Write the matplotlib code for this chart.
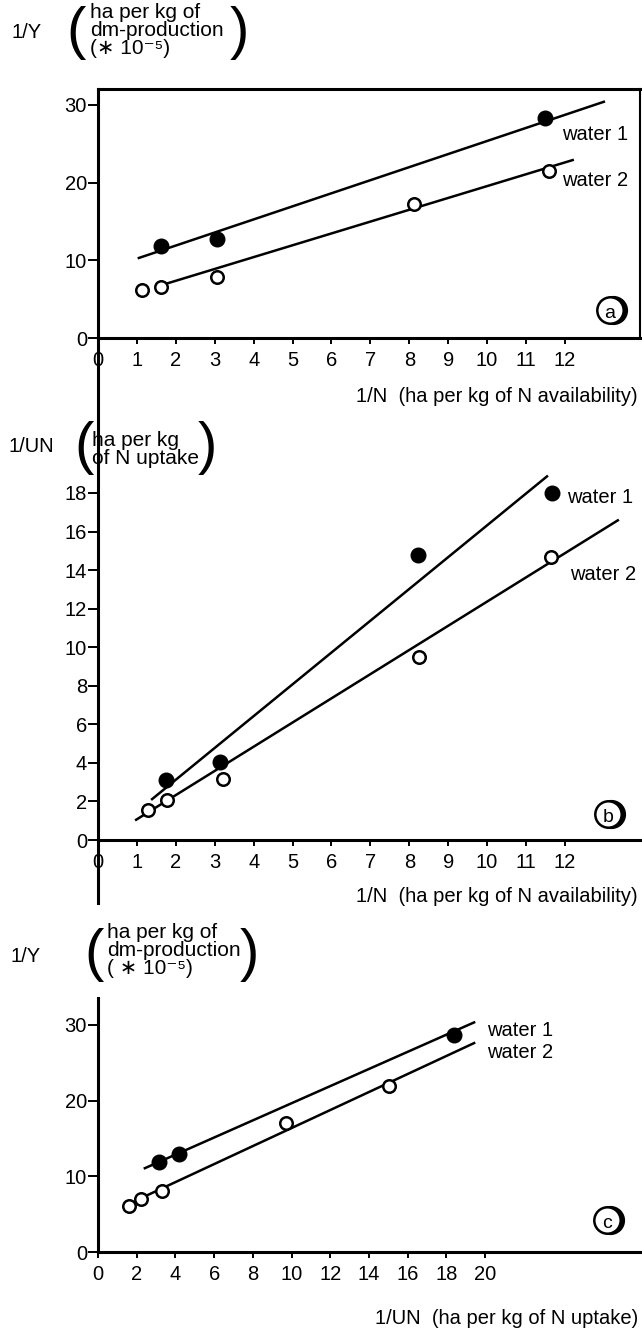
import matplotlib
matplotlib.use("Agg")
from matplotlib import pyplot as plt
from matplotlib import transforms
from matplotlib.lines import Line2D

plt.rcParams['font.family'] = ['Liberation Sans', 'DejaVu Sans']

# (a) 1/Y against 1/N
a_x1 = [1.63, 3.06, 11.48]
a_y1 = [11.8, 12.8, 28.3]
a_x2 = [1.14, 1.63, 3.06, 8.11, 11.59]
a_y2 = [6.2, 6.6, 7.9, 17.2, 21.5]
a_fit1_x = [1.05, 13.0]
a_fit1_y = [10.3, 30.4]
a_fit2_x = [1.63, 12.2]
a_fit2_y = [6.8, 22.9]

# (b) 1/UN against 1/N
b_x1 = [1.74, 3.13, 8.22, 11.68]
b_y1 = [3.1, 4.05, 14.8, 18.0]
b_x2 = [1.29, 1.77, 3.22, 8.24, 11.64]
b_y2 = [1.56, 2.06, 3.15, 9.5, 14.7]
b_fit1_x = [1.39, 11.54]
b_fit1_y = [2.12, 18.86]
b_fit2_x = [0.98, 13.36]
b_fit2_y = [1.05, 16.58]

# (c) 1/Y against 1/UN
c_x1 = [3.16, 4.17, 18.38]
c_y1 = [11.9, 13.0, 28.7]
c_x2 = [1.58, 2.21, 3.33, 9.73, 15.05]
c_y2 = [6.07, 7.03, 8.0, 17.0, 21.95]
c_fit1_x = [2.42, 19.43]
c_fit1_y = [11.07, 30.33]
c_fit2_x = [2.21, 19.43]
c_fit2_y = [7.1, 27.6]

W, H = 642, 1330
fig = plt.figure(figsize=(W / 100, H / 100), dpi=100)


def fx(px):
    return px / W


def fy(py):
    return 1 - py / H


def make_axes(top, bottom, zero, per_unit, xmax, xticks, yticks):
    # axes box in pixels, y range from the pixel position of zero
    ax = fig.add_axes([fx(98), fy(bottom), fx(640) - fx(98), (bottom - top) / H])
    ax.set_xlim(0, xmax)
    ax.set_ylim((zero - bottom) / per_unit, (zero - top) / per_unit)
    ax.set_xticks(xticks)
    ax.set_yticks(yticks)
    ax.spines['bottom'].set_position(('data', 0))
    for s in ax.spines.values():
        s.set_linewidth(2.2)
    ax.spines['top'].set_visible(False)
    ax.spines['right'].set_visible(False)
    ax.tick_params(axis='y', direction='out', length=7.5, width=1.4, pad=0.5, labelsize=14.5)
    ax.tick_params(axis='x', direction='out', length=4.5, width=1.4, pad=4.5, labelsize=14.5)
    ax.patch.set_alpha(0)
    return ax


def draw(ax, x1, y1, x2, y2, f1x, f1y, f2x, f2y):
    ax.plot(f1x, f1y, color='black', lw=1.8, zorder=2)
    ax.plot(f2x, f2y, color='black', lw=1.8, zorder=2)
    ax.plot(x1, y1, 'o', ms=10.5, mfc='black', mec='black', zorder=3, clip_on=False)
    ax.plot(x2, y2, 'o', ms=9, mfc='white', mec='black', mew=1.8, zorder=3, clip_on=False)


def txt(x, y, s, size=14.5, ha='left', **kw):
    fig.text(fx(x), fy(y), s, fontsize=size, ha=ha, va='center', **kw)


def tag(x, y, s):
    # circled panel letter with a dark rim on its right side
    shifted = transforms.offset_copy(fig.transFigure, fig=fig, x=3, y=0, units='dots')
    fig.add_artist(Line2D([fx(x)], [fy(y)], transform=shifted, marker='o', ms=20,
                          mfc='black', mec='black', ls='none'))
    fig.add_artist(Line2D([fx(x)], [fy(y)], transform=fig.transFigure, marker='o', ms=19,
                          mfc='white', mec='black', mew=1.8, ls='none'))
    txt(x, y + 3, s, size=14, ha='center')


def paren_label(x, y, lines, left, right, ymid):
    txt(left, ymid, '(', size=42)
    txt(right, ymid, ')', size=42)
    for i, line in enumerate(lines):
        txt(x, y + i * 18, line, size=15)


# panel a
ax_a = make_axes(89, 338, 338, 7.77, 13.93, range(0, 13), [0, 10, 20, 30])
ax_a.spines['top'].set_visible(True)
ax_a.spines['right'].set_visible(True)
ax_a.spines['right'].set_linewidth(1.5)
draw(ax_a, a_x1, a_y1, a_x2, a_y2, a_fit1_x, a_fit1_y, a_fit2_x, a_fit2_y)

# panel b, left axis runs up to panel a and down below zero
ax_b = make_axes(338, 903, 840, 19.28, 13.93, range(0, 13), range(0, 19, 2))
draw(ax_b, b_x1, b_y1, b_x2, b_y2, b_fit1_x, b_fit1_y, b_fit2_x, b_fit2_y)

# panel c
ax_c = make_axes(998, 1252, 1252, 7.57, 28.0, range(0, 21, 2), [0, 10, 20, 30])
draw(ax_c, c_x1, c_y1, c_x2, c_y2, c_fit1_x, c_fit1_y, c_fit2_x, c_fit2_y)

# labels
txt(12, 32, '1/Y')
paren_label(90, 12, ['ha per kg of', 'dm-production', '(\u2217 10\u207b\u2075)'], 66, 230, 33)
txt(562, 135, 'water 1')
txt(562, 180, 'water 2')
txt(638, 396, '1/N  (ha per kg of N availability)', ha='right')
tag(610, 310, 'a')

txt(8, 447, '1/UN')
paren_label(92, 440, ['ha per kg', 'of N uptake'], 74, 198, 448)
txt(567, 497, 'water 1')
txt(570, 575, 'water 2')
txt(638, 897, '1/N  (ha per kg of N availability)', ha='right')
tag(608, 814, 'b')

txt(10, 957, '1/Y')
paren_label(107, 932, ['ha per kg of', 'dm-production', '( \u2217 10\u207b\u2075)'], 84, 240, 955)
txt(487, 1030, 'water 1')
txt(487, 1053, 'water 2')
txt(638, 1318, '1/UN  (ha per kg of N uptake)', ha='right')
tag(607, 1220, 'c')

fig.savefig('out.png', dpi=100)
